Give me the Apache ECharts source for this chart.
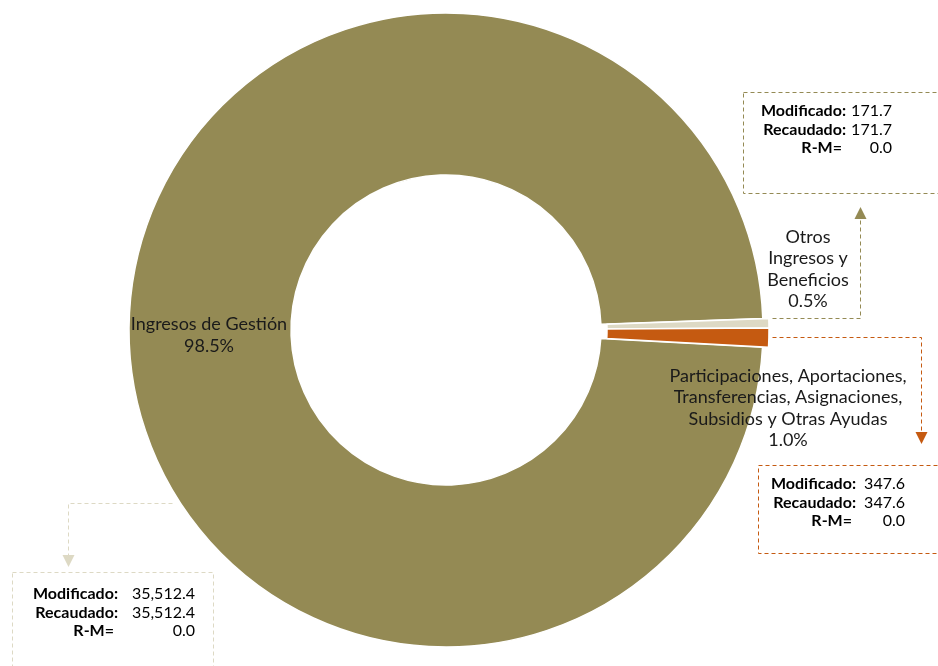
<!DOCTYPE html>
<html>
<head>
<meta charset="utf-8">
<script src="https://cdn.jsdelivr.net/npm/echarts@6/dist/echarts.min.js"></script>
<style>html,body{margin:0;padding:0;background:#fff;}#c{width:938px;height:666px;}</style>
</head>
<body>
<div id="c"></div>
<script>
const categories = ['Ingresos de Gestión', 'Otros Ingresos y Beneficios', 'Participaciones, Aportaciones, Transferencias, Asignaciones, Subsidios y Otras Ayudas'];
const categoryLabels = ['Ingresos de Gestión', 'Otros\nIngresos y\nBeneficios', 'Participaciones, Aportaciones,\nTransferencias, Asignaciones,\nSubsidios y Otras Ayudas'];
const modificado = [35512.4, 171.7, 347.6];
const recaudado = [35512.4, 171.7, 347.6];
const sliceColors = ['#948A54', '#DDD9C4', '#C55A11'];
const calloutColors = ['#DDD9C4', '#948A54', '#C55A11'];

const FONT = 'Lato';
const fmt = v => v.toLocaleString('en-US', {minimumFractionDigits: 1, maximumFractionDigits: 1});

// layout (positions only)
const labelPos = [[209, 335], [808, 269], [788, 408]];
const boxes = [
  {rect: [12, 572, 201, 120], labelRight: 118, valueRight: 195, y0: 594, line: [[172, 503], [68, 503], [68, 556]], tip: [68, 567], dir: 'down'},
  {rect: [743, 92, 220, 101], labelRight: 846, valueRight: 892, y0: 111, line: [[772, 318], [860, 318], [860, 219]], tip: [860, 207], dir: 'up'},
  {rect: [758, 465, 220, 88], labelRight: 856, valueRight: 905, y0: 484, line: [[772, 337], [921, 337], [921, 433]], tip: [921, 444], dir: 'down'}
];

const chart = echarts.init(document.getElementById('c'));
const graphics = [];
boxes.forEach((b, i) => {
  const col = calloutColors[i];
  graphics.push({type: 'rect', shape: {x: b.rect[0] + 0.5, y: b.rect[1] + 0.5, width: b.rect[2], height: b.rect[3]},
    style: {fill: 'none', stroke: col, lineWidth: 1, lineDash: [4, 3]}, z: 10});
  graphics.push({type: 'polyline', shape: {points: b.line.map(p => [p[0] + 0.5, p[1] + 0.5])},
    style: {fill: 'none', stroke: col, lineWidth: 1, lineDash: [4, 3]}, z: 10});
  const t = b.tip, s = b.dir === 'up' ? 1 : -1;
  graphics.push({type: 'polygon', shape: {points: [[t[0] + 0.5, t[1]], [t[0] - 5.5, t[1] + s * 12], [t[0] + 6.5, t[1] + s * 12]]},
    style: {fill: col}, z: 10});
  const labels = ['Modificado:', 'Recaudado:', 'R-M='];
  const values = [fmt(modificado[i]), fmt(recaudado[i]), fmt(recaudado[i] - modificado[i])];
  labels.forEach((lab, k) => {
    graphics.push({type: 'text', x: b.labelRight - (k === 2 ? 4 : 0), y: b.y0 + k * 18.5,
      style: {text: lab, font: 'bold 16px ' + FONT, fill: '#000', align: 'right', verticalAlign: 'middle'}, z: 11});
    graphics.push({type: 'text', x: b.valueRight, y: b.y0 + k * 18.5,
      style: {text: values[k], font: '16px ' + FONT, fill: '#000', align: 'right', verticalAlign: 'middle'}, z: 11});
  });
});

const baseLabel = {
  show: true,
  position: 'outside',
  formatter: p => categoryLabels[p.dataIndex] + '\n' + p.percent.toFixed(1) + '%',
  fontFamily: FONT, fontSize: 18, color: '#1a1a1a', lineHeight: 21.5, align: 'center'
};
const common = {
  type: 'pie',
  radius: [155, 317],
  startAngle: 356.9,
  clockwise: true,
  percentPrecision: 1,
  avoidLabelOverlap: false,
  silent: true,
  labelLine: {show: false},
  labelLayout: p => ({x: labelPos[p.dataIndex][0], y: labelPos[p.dataIndex][1], align: 'center', verticalAlign: 'middle'}),
  emphasis: {disabled: true}
};

chart.setOption({
  animation: false,
  backgroundColor: '#fff',
  series: [
    Object.assign({}, common, {
      center: [446, 330],
      label: baseLabel,
      data: categories.map((c, i) => ({
        name: c, value: modificado[i],
        itemStyle: i === 0 ? {color: sliceColors[i], borderColor: '#fff', borderWidth: 1.5} : {color: 'rgba(0,0,0,0)', borderWidth: 0},
        label: {show: i === 0}
      }))
    }),
    Object.assign({}, common, {
      center: [452, 330],
      label: baseLabel,
      z: 3,
      data: categories.map((c, i) => ({
        name: c, value: modificado[i],
        itemStyle: i === 0 ? {color: 'rgba(0,0,0,0)', borderWidth: 0} : {color: sliceColors[i], borderColor: '#fff', borderWidth: 1.5},
        label: {show: i !== 0}
      }))
    })
  ],
  graphic: graphics
});
</script>
</body>
</html>
